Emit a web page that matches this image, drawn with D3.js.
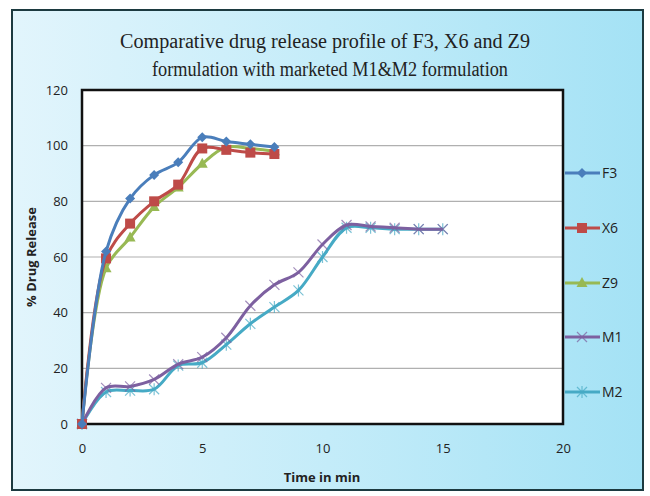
<!DOCTYPE html>
<html>
<head>
<meta charset="utf-8">
<script src="https://cdn.jsdelivr.net/npm/d3@7"></script>
<style>
  body { margin: 0; background: #fff; }
  text { font-family: "Open Sans", "Liberation Sans", sans-serif; }
</style>
</head>
<body>
<div id="chart"></div>
<script>
// release data, % drug released vs time (min)
var timesA = [0, 1, 2, 3, 4, 5, 6, 7, 8];
var timesB = [0, 1, 2, 3, 4, 5, 6, 7, 8, 9, 10, 11, 12, 13, 14, 15];
var f3 = [0, 62, 81, 89.5, 94, 103, 101.5, 100.5, 99.5];
var x6 = [0, 59.5, 72, 80, 86, 99, 98.5, 97.5, 97];
var z9 = [0, 56, 67, 78, 85, 93.5, 99.5, 99, 98];
var m1 = [0, 13, 13.5, 16, 21.5, 24, 31, 42.5, 50, 54.5, 64.5, 71.5, 71, 70.5, 70, 70];
var m2 = [0, 11.5, 12, 12.5, 21, 22, 28.5, 36, 42, 48, 60, 70.5, 70.5, 70, 70, 70];
var seriesNames = ["F3", "X6", "Z9", "M1", "M2"];
var xTicks = [0, 5, 10, 15, 20];
var yTicks = [0, 20, 40, 60, 80, 100, 120];

var W = 650, H = 496;
var pL = 82, pR = 563, pT = 90, pB = 424;

var colors = {F3: "#4a7ebb", X6: "#be4b48", Z9: "#98b954", M1: "#7d60a0", M2: "#46aac5"};
var series = [
  {name: "F3", t: timesA, v: f3, marker: "diamond"},
  {name: "X6", t: timesA, v: x6, marker: "square"},
  {name: "Z9", t: timesA, v: z9, marker: "triangle"},
  {name: "M1", t: timesB, v: m1, marker: "x"},
  {name: "M2", t: timesB, v: m2, marker: "star"}
];

var svg = d3.select("#chart").append("svg")
    .attr("width", W).attr("height", H);

var defs = svg.append("defs");
var grad = defs.append("linearGradient").attr("id", "bg")
    .attr("x1", "0").attr("y1", "0").attr("x2", "1").attr("y2", "0");
grad.append("stop").attr("offset", "0").attr("stop-color", "#e2f5fc");
grad.append("stop").attr("offset", "0.5").attr("stop-color", "#c4ecf9");
grad.append("stop").attr("offset", "1").attr("stop-color", "#a4e2f5");

// outer frame
svg.append("rect")
    .attr("x", 12).attr("y", 10).attr("width", 631).attr("height", 480)
    .attr("fill", "url(#bg)").attr("stroke", "#1c3a40").attr("stroke-width", 2);

var x = d3.scaleLinear().domain([0, 20]).range([pL, pR]);
var y = d3.scaleLinear().domain([0, 120]).range([pB, pT]);

svg.append("rect")
    .attr("x", pL).attr("y", pT)
    .attr("width", pR - pL).attr("height", pB - pT)
    .attr("fill", "#fff");

// gridlines
svg.append("g").selectAll("line")
  .data(yTicks.filter(function(d) { return d > 0 && d < 120; }))
  .enter().append("line")
    .attr("x1", pL).attr("x2", pR)
    .attr("y1", function(d) { return y(d); })
    .attr("y2", function(d) { return y(d); })
    .attr("stroke", "#b0b0b0").attr("stroke-width", 1.2);

// axes (labels only, frame drawn separately)
var yAxis = d3.axisLeft(y).tickValues(yTicks).tickSize(0).tickPadding(14);
var xAxis = d3.axisBottom(x).tickValues(xTicks).tickSize(0).tickPadding(20);

var gy = svg.append("g").attr("transform", "translate(" + pL + ",0)").call(yAxis);
var gx = svg.append("g").attr("transform", "translate(0," + pB + ")").call(xAxis);
[gy, gx].forEach(function(g) {
  g.select(".domain").remove();
  g.selectAll("text").attr("font-size", 13).attr("fill", "#222")
    .style("font-family", "Open Sans, sans-serif");
});

// plot border
svg.append("rect")
    .attr("x", pL).attr("y", pT)
    .attr("width", pR - pL).attr("height", pB - pT)
    .attr("fill", "none").attr("stroke", "#111").attr("stroke-width", 2.5);

var line = d3.line()
    .x(function(d) { return x(d[0]); })
    .y(function(d) { return y(d[1]); })
    .curve(d3.curveCatmullRom.alpha(0.5));

function drawMarker(g, type, color) {
  if (type === "diamond") {
    g.append("path").attr("d", "M0,-5L5,0L0,5L-5,0Z").attr("fill", color);
  } else if (type === "square") {
    g.append("rect").attr("x", -5).attr("y", -5).attr("width", 10).attr("height", 10).attr("fill", color);
  } else if (type === "triangle") {
    g.append("path").attr("d", "M0,-6L5.5,4L-5.5,4Z").attr("fill", color);
  } else if (type === "x") {
    g.append("path").attr("d", "M-5,-5L5,5M-5,5L5,-5")
      .attr("stroke", color).attr("stroke-width", 1.2).attr("opacity", 0.7);
  } else {
    g.append("path").attr("d", "M-5,-5L5,5M-5,5L5,-5M0,-6L0,6")
      .attr("stroke", color).attr("stroke-width", 1.2).attr("opacity", 0.7);
  }
}

// draw series, last first so F3 on top
series.slice().reverse().forEach(function(s) {
  var pts = s.t.map(function(t, i) { return [t, s.v[i]]; });
  var g = svg.append("g");
  g.append("path").datum(pts)
    .attr("d", line)
    .attr("fill", "none")
    .attr("stroke", colors[s.name])
    .attr("stroke-width", 3);
  pts.forEach(function(p) {
    var m = g.append("g").attr("transform", "translate(" + x(p[0]) + "," + y(p[1]) + ")");
    drawMarker(m, s.marker, colors[s.name]);
  });
});

// legend
var legY = [173, 228, 283, 337, 392];
seriesNames.forEach(function(n, i) {
  var s = series[i];
  var g = svg.append("g").attr("transform", "translate(0," + legY[i] + ")");
  g.append("line").attr("x1", 565).attr("x2", 600)
    .attr("stroke", colors[n]).attr("stroke-width", 3);
  var m = g.append("g").attr("transform", "translate(582,0)");
  drawMarker(m, s.marker, colors[n]);
  g.append("text").attr("x", 602).attr("y", 5)
    .attr("font-size", 14).attr("fill", "#222").text(n);
});

// title
var title = svg.append("text")
    .attr("text-anchor", "middle")
    .style("font-family", "Liberation Serif, serif")
    .attr("font-size", 20).attr("fill", "#222");
title.append("tspan").attr("x", 325).attr("y", 48)
    .attr("textLength", 410).attr("lengthAdjust", "spacingAndGlyphs")
    .text("Comparative drug release profile of F3, X6 and Z9");
title.append("tspan").attr("x", 330).attr("y", 76)
    .attr("textLength", 356).attr("lengthAdjust", "spacingAndGlyphs")
    .text("formulation with marketed M1&M2 formulation");

svg.append("text")
    .attr("x", 322).attr("y", 482)
    .attr("text-anchor", "middle")
    .attr("font-size", 13).attr("font-weight", "bold").attr("fill", "#222")
    .text("Time in min");

svg.append("text")
    .attr("transform", "translate(36,257) rotate(-90)")
    .attr("text-anchor", "middle")
    .attr("font-size", 13).attr("font-weight", "bold").attr("fill", "#222")
    .text("% Drug Release");
</script>
</body>
</html>
